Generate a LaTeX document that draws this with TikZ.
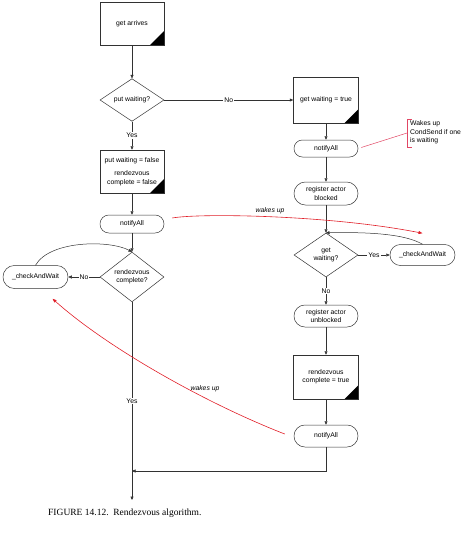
\documentclass[tikz,border=0pt]{standalone}
\usepackage{fontspec}
\setmainfont{Liberation Serif}
\newfontfamily\helv{Liberation Sans}
\usetikzlibrary{arrows.meta,shapes.geometric}
\definecolor{wakered}{RGB}{225,30,40}
\definecolor{notered}{RGB}{225,70,100}
\definecolor{linegray}{RGB}{50,50,50}
\begin{document}
\begin{tikzpicture}[x=1pt,y=-1pt,
  lbl/.style={font=\helv\fontsize{6.8}{8.3}\selectfont, align=center, text=black},
  box/.style={lbl, draw=linegray, line width=0.5pt, rectangle, inner sep=1pt,
    path picture={\fill[black] (path picture bounding box.south east) -- ++(-14pt,0pt) -- ++(14pt,14pt) -- cycle;}},
  term/.style={lbl, draw=linegray, line width=0.5pt, rectangle, inner sep=1pt, rounded corners=#1},
  dec/.style={lbl, draw=linegray, line width=0.5pt, diamond, inner sep=0pt},
  arr/.style={draw=linegray, line width=0.5pt, -{Triangle[length=3.5pt,width=3pt]}},
  conn/.style={draw=linegray, line width=0.5pt},
  el/.style={lbl, fill=white, inner sep=1pt},
  wake/.style={draw=wakered, line width=0.6pt, -{Triangle[length=4pt,width=3pt]}},
  wakelbl/.style={font=\helv\itshape\fontsize{6.8}{8}\selectfont, inner sep=1pt},
  note/.style={draw=notered, line width=0.5pt}
]
\useasboundingbox (0,0) rectangle (474,536);

% left column
\node[box, minimum width=64pt, minimum height=43pt] (arrives) at (132,23.5) {get arrives};
\node[dec, minimum width=64pt, minimum height=42pt] (pw) at (132,100) {put waiting?};
\node[box, minimum width=64pt, minimum height=43pt] (pf) at (132,171.5) {put waiting = false\\[5pt]rendezvous\\complete = false};
\node[term=8.9pt, minimum width=64pt, minimum height=18pt] (n1) at (132,224) {notifyAll};
\node[dec, minimum width=64pt, minimum height=44pt] (rc) at (132,277) {rendezvous\\complete?};
\node[term=11.4pt, minimum width=65pt, minimum height=23pt] (c1) at (35.5,277) {\_checkAndWait};

% right column
\node[box, minimum width=65pt, minimum height=46pt] (gt) at (326,100) {get waiting = true};
\node[term=8.4pt, minimum width=64pt, minimum height=17pt] (n2) at (326,148.5) {notifyAll};
\node[term=11.4pt, minimum width=64pt, minimum height=23pt] (rb) at (326,193.5) {register actor\\blocked};
\node[dec, minimum width=64pt, minimum height=44pt] (gw) at (326,255) {get\\waiting?};
\node[term=10.4pt, minimum width=65pt, minimum height=21pt] (c2) at (422.5,255) {\_checkAndWait};
\node[term=10.9pt, minimum width=64pt, minimum height=22pt] (ru) at (326,316) {register actor\\unblocked};
\node[box, minimum width=65pt, minimum height=44pt] (rt) at (326,377) {rendezvous\\complete = true};
\node[term=10.9pt, minimum width=64pt, minimum height=22pt] (n3) at (326,436) {notifyAll};

\coordinate (join) at (132,471);
\coordinate (end) at (132,500);

% annotation
\node[lbl, align=left, anchor=west, inner sep=0pt] (note) at (410,132.5) {Wakes up\\CondSend if one\\is waiting};
\draw[note] (412,119) -- (407,119) -- (407,147) -- (412,147);
\coordinate (brk) at (407,133);
\draw[note] ([xshift=3pt,yshift=1pt]n2.east) -- (brk);

% connectors left
\draw[arr] (arrives) -- (pw);
\draw[arr] (pw) -- node[el]{No} (gt);
\draw[arr] (pw) -- node[el]{Yes} (pf);
\draw[arr] (pf) -- (n1);
\draw[arr] (n1) -- (rc);
\draw[arr] (rc) -- node[el]{No} (c1);
\draw[arr] (c1.north) .. controls (50,240) and (110,240) .. (rc.north);
\draw[arr] (rc.south) -- node[el]{Yes} (end);

% connectors right
\draw[arr] (gt) -- (n2);
\draw[arr] (n2) -- (rb);
\draw[arr] (rb) -- (gw);
\draw[arr] (gw) -- node[el]{Yes} (c2);
\draw[arr] (c2.north) .. controls (405,234) and (370,232) .. (gw.north);
\draw[arr] (gw) -- node[el]{No} (ru);
\draw[arr] (ru) -- (rt);
\draw[arr] (rt) -- (n3);
\draw[arr] (n3.south) |- (join);

% wakes up arrows
\coordinate (w1s) at ([xshift=8pt,yshift=6pt]n1.east);
\coordinate (w1e) at ([yshift=11pt]c2.north);
\draw[wake] (w1s) .. controls (200,213) and (330,215) .. (w1e);
\node[wakelbl] (wl1) at (270,211) {wakes up};
\coordinate (w2s) at ([xshift=-9pt,yshift=2pt]n3.west);
\coordinate (w2e) at ([xshift=17pt,yshift=-10pt]c1.south);
\draw[wake] (w2s) .. controls (210,405) and (110,350) .. (w2e);
\node[wakelbl] (wl2) at (205,389) {wakes up};

% caption
\node[anchor=west, inner sep=0pt, font=\fontsize{9.5}{11}\selectfont] (cap) at (48,513) {FIGURE 14.12.\ \ Rendezvous algorithm.};
\end{tikzpicture}
\end{document}
